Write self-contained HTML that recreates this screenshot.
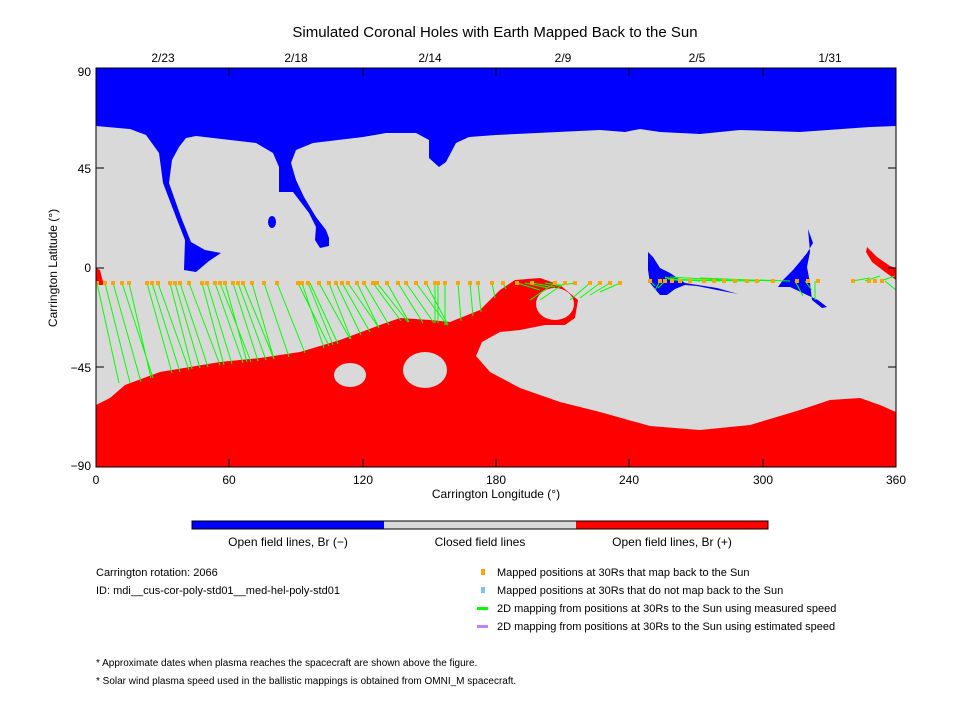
<!DOCTYPE html>
<html><head><meta charset="utf-8"><style>
body{margin:0;background:#fff;}
svg text{font-family:"Liberation Sans",sans-serif;fill:#000;}
</style></head><body>
<svg width="960" height="720" xmlns="http://www.w3.org/2000/svg">
<rect width="960" height="720" fill="#fff"/>
<text x="495" y="37" font-size="15" text-anchor="middle">Simulated Coronal Holes with Earth Mapped Back to the Sun</text>
<g font-size="12" text-anchor="middle">
<text x="163" y="62">2/23</text><text x="296" y="62">2/18</text><text x="430" y="62">2/14</text>
<text x="563" y="62">2/9</text><text x="697" y="62">2/5</text><text x="830" y="62">1/31</text>
</g>
<clipPath id="c"><rect x="96" y="68" width="800" height="399"/></clipPath>
<g clip-path="url(#c)">
<rect x="96" y="68" width="800" height="399" fill="#d9d9d9"/>
<path fill="#0000ff" d="M96,68 H896 V126 L870,127 L800,132 L740,130 L700,134 L660,132 L640,129 L625,132 L600,130 L496,135 L469,137 L456,143 L446,162 L439,167 L429,158 L429,140 L416,133 L386,133 L363,137 L313,143 L296,150 L291,163 L296,180 L304,197 L316,217 L326,230 L329,238 L329,246 L320,248 L315,240 L316,227 L309,213 L293,192 L279,192 L279,167 L273,153 L256,143 L196,136 L186,138 L179,147 L172,160 L169,183 L181,217 L191,242 L205,250 L221,253 L209,261 L196,272 L184,270 L185,240 L176,217 L163,183 L159,153 L146,135 L130,129 L96,126 Z"/>
<ellipse cx="272" cy="222" rx="4" ry="6" fill="#0000ff"/>
<path fill="#0000ff" d="M648,252 L653,257 L660,268 L670,273 L685,283 L717,288 L738,294 L717,290 L697,286 L685,285 L675,289 L667,295 L660,295 L650,283 L648,270 Z"/>
<path fill="#0000ff" d="M808,229 L813,243 L807,253 L803,258 L793,270 L783,280 L778,287 L790,287 L807,295 L818,300 L827,307 L822,308 L812,300 L810,283 L807,267 L810,252 Z"/>
<path fill="#ff0000" d="M96,467 V405 L110,398 L125,385 L160,372 L220,362 L260,358 L300,352 L340,340 L380,325 L400,318 L430,320 L450,322 L480,310 L500,290 L515,280 L540,278 L560,285 L578,300 L575,318 L565,325 L545,325 L520,330 L500,332 L482,342 L476,356 L490,372 L520,388 L560,402 L600,412 L650,426 L700,430 L750,425 L800,410 L830,400 L860,398 L880,405 L896,412 V467 Z"/>
<ellipse cx="555" cy="304" rx="19" ry="16" fill="#d9d9d9"/>
<ellipse cx="350" cy="375" rx="16" ry="12" fill="#d9d9d9"/>
<ellipse cx="425" cy="370" rx="22" ry="18" fill="#d9d9d9"/>
<path fill="#ff0000" d="M867,247 L877,257 L890,266 L896,268 V280 L885,272 L872,262 L866,252 Z"/>
<path fill="#ff0000" d="M96,268 L100,270 L102,278 L104,285 L96,285 Z"/>
<path stroke="#00ff00" stroke-width="1" fill="none" d="
M97,283L119,383M105,283L130,383M113,283L141,382M122,283L153,378M129,283L151,378M147,283L172,373M152,283L180,372M158,283L189,370M170,283L192,369M175,283L200,368M180,283L208,367M189,283L220,365M202,283L224,365M207,283L232,364M215,283L243,363M220,283L251,362M225,283L247,362M233,283L258,361M238,283L266,360M243,283L274,359M252,283L274,359M264,283L289,357M277,283L305,353M298,283L329,346M302,283L324,348M308,283L333,345M310,283L338,344M319,283L350,339M329,283L351,339M336,283L361,335M342,283L370,332M348,283L379,328M357,283L379,328M364,283L389,325M373,283L401,321M377,283L408,322M387,283L409,322M398,283L423,323M406,283L434,323M416,283L447,325M426,283L448,325M435,283L435,323M438,283L438,323M445,283L445,325M458,283L461,321M470,283L473,316M478,283L481,312M492,283L495,298M503,283L506,289
M517,283L540,290M525,283L548,288M532,283L555,287M545,283L560,285M555,283L530,300M565,283L540,300M575,283L555,286M590,283L570,300M600,283L580,298M610,283L590,295M620,283L600,292
M650,281L655,286M660,281L655,290M665,281L658,288M680,281L665,277M700,281L665,278M720,281L668,279M740,281L670,277M760,281L670,280M775,281L700,278M790,281L760,280M795,281L803,296M805,281L812,290M815,281L815,300M852,281L870,278M865,281L880,276M880,281L895,276M885,281L896,290
"/>
<g fill="#ffa500">
<rect x="95" y="281" width="4" height="4"/><rect x="103" y="281" width="4" height="4"/><rect x="111" y="281" width="4" height="4"/><rect x="120" y="281" width="4" height="4"/><rect x="127" y="281" width="4" height="4"/><rect x="145" y="281" width="4" height="4"/><rect x="150" y="281" width="4" height="4"/><rect x="156" y="281" width="4" height="4"/><rect x="168" y="281" width="4" height="4"/><rect x="173" y="281" width="4" height="4"/><rect x="178" y="281" width="4" height="4"/><rect x="187" y="281" width="4" height="4"/><rect x="200" y="281" width="4" height="4"/><rect x="205" y="281" width="4" height="4"/><rect x="213" y="281" width="4" height="4"/><rect x="218" y="281" width="4" height="4"/><rect x="223" y="281" width="4" height="4"/><rect x="231" y="281" width="4" height="4"/><rect x="236" y="281" width="4" height="4"/><rect x="241" y="281" width="4" height="4"/><rect x="250" y="281" width="4" height="4"/><rect x="262" y="281" width="4" height="4"/><rect x="275" y="281" width="4" height="4"/><rect x="296" y="281" width="4" height="4"/><rect x="300" y="281" width="4" height="4"/><rect x="306" y="281" width="4" height="4"/><rect x="317" y="281" width="4" height="4"/><rect x="327" y="281" width="4" height="4"/><rect x="334" y="281" width="4" height="4"/><rect x="340" y="281" width="4" height="4"/><rect x="346" y="281" width="4" height="4"/><rect x="355" y="281" width="4" height="4"/><rect x="362" y="281" width="4" height="4"/><rect x="371" y="281" width="4" height="4"/><rect x="375" y="281" width="4" height="4"/><rect x="385" y="281" width="4" height="4"/><rect x="396" y="281" width="4" height="4"/><rect x="404" y="281" width="4" height="4"/><rect x="414" y="281" width="4" height="4"/><rect x="424" y="281" width="4" height="4"/><rect x="433" y="281" width="4" height="4"/><rect x="436" y="281" width="4" height="4"/><rect x="443" y="281" width="4" height="4"/><rect x="456" y="281" width="4" height="4"/><rect x="468" y="281" width="4" height="4"/><rect x="476" y="281" width="4" height="4"/><rect x="490" y="281" width="4" height="4"/><rect x="501" y="281" width="4" height="4"/>
<rect x="515" y="281" width="4" height="4"/><rect x="530" y="281" width="4" height="4"/><rect x="553" y="281" width="4" height="4"/><rect x="563" y="281" width="4" height="4"/><rect x="573" y="281" width="4" height="4"/><rect x="588" y="281" width="4" height="4"/><rect x="598" y="281" width="4" height="4"/><rect x="608" y="281" width="4" height="4"/><rect x="618" y="281" width="4" height="4"/>
<rect x="648" y="279" width="4" height="4"/><rect x="658" y="279" width="4" height="4"/><rect x="663" y="279" width="4" height="4"/><rect x="670" y="279" width="4" height="4"/><rect x="678" y="279" width="4" height="4"/><rect x="688" y="279" width="4" height="4"/><rect x="702" y="279" width="4" height="4"/><rect x="712" y="279" width="4" height="4"/><rect x="722" y="279" width="4" height="4"/><rect x="733" y="279" width="4" height="4"/><rect x="745" y="279" width="4" height="4"/><rect x="755" y="279" width="4" height="4"/><rect x="771" y="279" width="4" height="4"/><rect x="795" y="279" width="4" height="4"/><rect x="806" y="279" width="4" height="4"/><rect x="816" y="279" width="4" height="4"/><rect x="851" y="279" width="4" height="4"/><rect x="867" y="279" width="4" height="4"/><rect x="873" y="279" width="4" height="4"/><rect x="880" y="279" width="4" height="4"/>
</g>
</g>
<rect x="96" y="68" width="800" height="399" fill="none" stroke="#000"/>
<g stroke="#000">
<path d="M96,168h8M96,268h8M96,367h8M896,168h-8M896,268h-8M896,367h-8M229,467v-8M363,467v-8M496,467v-8M629,467v-8M763,467v-8M229,68v8M363,68v8M496,68v8M629,68v8M763,68v8"/>
</g>
<g font-size="12" text-anchor="end">
<text x="91" y="76">90</text><text x="91" y="173">45</text><text x="91" y="272">0</text><text x="91" y="372">−45</text><text x="91" y="470">−90</text>
</g>
<g font-size="12" text-anchor="middle">
<text x="96" y="484">0</text><text x="229" y="484">60</text><text x="363" y="484">120</text><text x="496" y="484">180</text><text x="629" y="484">240</text><text x="763" y="484">300</text><text x="896" y="484">360</text>
<text x="496" y="498">Carrington Longitude (°)</text>
</g>
<text transform="translate(57,268) rotate(-90)" font-size="12" text-anchor="middle">Carrington Latitude (°)</text>
<rect x="192" y="521" width="192" height="8" fill="#0000ff"/>
<rect x="384" y="521" width="192" height="8" fill="#d9d9d9"/>
<rect x="576" y="521" width="192" height="8" fill="#ff0000"/>
<rect x="192" y="521" width="576" height="8" fill="none" stroke="#000"/>
<g font-size="12" text-anchor="middle">
<text x="288" y="546">Open field lines, Br (−)</text><text x="480" y="546">Closed field lines</text><text x="672" y="546">Open field lines, Br (+)</text>
</g>
<g font-size="11">
<text x="96" y="576">Carrington rotation: 2066</text>
<text x="96" y="594">ID: mdi__cus-cor-poly-std01__med-hel-poly-std01</text>
<rect x="481" y="569" width="4" height="6" fill="#ffa500"/><text x="497" y="576">Mapped positions at 30Rs that map back to the Sun</text>
<rect x="481" y="587" width="4" height="6" fill="#80c0ff"/><text x="497" y="594">Mapped positions at 30Rs that do not map back to the Sun</text>
<rect x="477" y="607" width="11" height="3" fill="#00ff00"/><text x="497" y="612">2D mapping from positions at 30Rs to the Sun using measured speed</text>
<rect x="477" y="625" width="11" height="3" fill="#c080ff"/><text x="497" y="630">2D mapping from positions at 30Rs to the Sun using estimated speed</text>
<text x="96" y="666" font-size="10">* Approximate dates when plasma reaches the spacecraft are shown above the figure.</text>
<text x="96" y="684" font-size="10">* Solar wind plasma speed used in the ballistic mappings is obtained from OMNI_M spacecraft.</text>
</g>
</svg>
</body></html>
